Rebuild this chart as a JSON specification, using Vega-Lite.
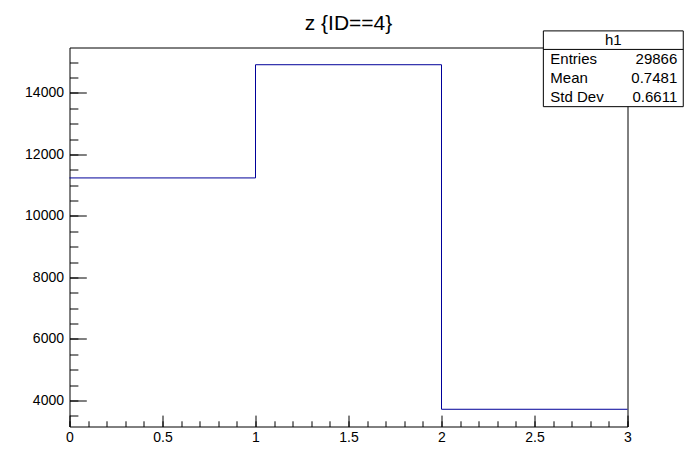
{
  "$schema": "https://vega.github.io/schema/vega-lite/v6.json",
  "width": 558,
  "height": 379,
  "autosize": {"type": "none"},
  "padding": {"left": 69.5, "top": 47.5, "right": 70.5, "bottom": 47.5},
  "background": "white",
  "view": {"stroke": "black", "strokeWidth": 1},
  "title": {
    "text": "z {ID==4}",
    "font": "Liberation Sans",
    "fontSize": 21,
    "fontWeight": "normal",
    "color": "black",
    "anchor": "middle",
    "frame": "group",
    "baseline": "alphabetic",
    "offset": 4,
    "dy": 25
  },
  "datasets": {
    "bins": [
      {"lo": 0, "hi": 1, "count": 11236},
      {"lo": 1, "hi": 2, "count": 14918},
      {"lo": 2, "hi": 3, "count": 3712}
    ],
    "stats": [
      {"h": "h1", "labels": "Entries\nMean\nStd Dev", "values": "29866\n0.7481\n0.6611"}
    ]
  },
  "resolve": {"axis": {"x": "independent", "y": "independent"}},
  "layer": [
    {
      "data": {"name": "bins"},
      "transform": [{"fold": ["lo", "hi"], "as": ["edge_type", "edge"]}],
      "mark": {"type": "line", "color": "#000099", "strokeWidth": 1},
      "encoding": {
        "x": {
          "field": "edge", "type": "quantitative",
          "scale": {"domain": [0, 3], "nice": false, "zero": false},
          "axis": {
            "orient": "bottom", "title": null, "grid": false, "domain": false,
            "values": [0, 0.5, 1, 1.5, 2, 2.5, 3], "format": "~g",
            "tickSize": -11.4, "tickColor": "black", "tickWidth": 1,
            "labelPadding": 15.4, "labelFont": "Liberation Sans", "labelFontSize": 14,
            "labelColor": "black", "labelFlush": false, "labelOverlap": false, "labelBound": false
          }
        },
        "y": {
          "field": "count", "type": "quantitative",
          "scale": {"domain": [3152, 15478], "nice": false, "zero": false},
          "axis": {
            "orient": "left", "title": null, "grid": false, "domain": false,
            "values": [4000, 6000, 8000, 10000, 12000, 14000], "format": "d",
            "tickSize": -16.8, "tickColor": "black", "tickWidth": 1,
            "labelPadding": 22.8, "labelFont": "Liberation Sans", "labelFontSize": 14,
            "labelColor": "black", "labelFlush": false, "labelOverlap": false, "labelBound": false
          }
        },
        "order": [
          {"field": "lo", "sort": "ascending"},
          {"field": "edge_type", "sort": "descending"}
        ]
      }
    },
    {
      "data": {"name": "stats"},
      "mark": {"type": "rect", "fill": "white", "stroke": "black", "strokeWidth": 1},
      "encoding": {
        "x": {
          "datum": 2.5476, "type": "quantitative",
          "scale": {"domain": [0, 3], "nice": false, "zero": false},
          "axis": {
            "orient": "bottom", "title": null, "grid": false, "domain": false, "labels": false,
            "values": [0, 0.1, 0.2, 0.3, 0.4, 0.5, 0.6, 0.7, 0.8, 0.9, 1, 1.1, 1.2, 1.3, 1.4, 1.5, 1.6, 1.7, 1.8, 1.9, 2, 2.1, 2.2, 2.3, 2.4, 2.5, 2.6, 2.7, 2.8, 2.9, 3],
            "tickSize": -5.7, "tickColor": "black", "tickWidth": 1
          }
        },
        "x2": {"datum": 3.2998},
        "y": {
          "datum": 16018, "type": "quantitative",
          "scale": {"domain": [3152, 15478], "nice": false, "zero": false},
          "axis": {
            "orient": "left", "title": null, "grid": false, "domain": false, "labels": false,
            "values": [3500, 4000, 4500, 5000, 5500, 6000, 6500, 7000, 7500, 8000, 8500, 9000, 9500, 10000, 10500, 11000, 11500, 12000, 12500, 13000, 13500, 14000, 14500, 15000],
            "tickSize": -8.4, "tickColor": "black", "tickWidth": 1
          }
        },
        "y2": {"datum": 13554}
      }
    },
    {
      "data": {"name": "stats"},
      "mark": {"type": "rule", "color": "black", "strokeWidth": 1},
      "encoding": {
        "x": {"datum": 2.5476, "type": "quantitative", "scale": {"domain": [0, 3], "nice": false, "zero": false}, "axis": null},
        "x2": {"datum": 3.2998},
        "y": {"datum": 15416, "type": "quantitative", "scale": {"domain": [3152, 15478], "nice": false, "zero": false}, "axis": null}
      }
    },
    {
      "data": {"name": "stats"},
      "mark": {"type": "text", "font": "Liberation Sans", "fontSize": 15, "color": "black", "align": "center", "baseline": "middle"},
      "encoding": {
        "x": {"datum": 2.924, "type": "quantitative", "scale": {"domain": [0, 3], "nice": false, "zero": false}, "axis": null},
        "y": {"datum": 15719, "type": "quantitative", "scale": {"domain": [3152, 15478], "nice": false, "zero": false}, "axis": null},
        "text": {"field": "h"}
      }
    },
    {
      "data": {"name": "stats"},
      "mark": {"type": "text", "font": "Liberation Sans", "fontSize": 15, "color": "black", "align": "left", "baseline": "middle", "lineBreak": "\n", "lineHeight": 19.15},
      "encoding": {
        "x": {"datum": 2.585, "type": "quantitative", "scale": {"domain": [0, 3], "nice": false, "zero": false}, "axis": null},
        "y": {"datum": 15104, "type": "quantitative", "scale": {"domain": [3152, 15478], "nice": false, "zero": false}, "axis": null},
        "text": {"field": "labels"}
      }
    },
    {
      "data": {"name": "stats"},
      "mark": {"type": "text", "font": "Liberation Sans", "fontSize": 15, "color": "black", "align": "right", "baseline": "middle", "lineBreak": "\n", "lineHeight": 19.15},
      "encoding": {
        "x": {"datum": 3.2675, "type": "quantitative", "scale": {"domain": [0, 3], "nice": false, "zero": false}, "axis": null},
        "y": {"datum": 15104, "type": "quantitative", "scale": {"domain": [3152, 15478], "nice": false, "zero": false}, "axis": null},
        "text": {"field": "values"}
      }
    }
  ]
}
